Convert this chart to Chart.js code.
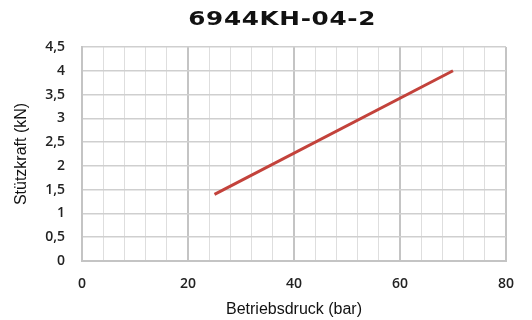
<!DOCTYPE html>
<html>
<head>
<meta charset="utf-8">
<script src="https://cdn.jsdelivr.net/npm/chart.js@4"></script>
<style>
  html, body { margin: 0; padding: 0; background: #fff; }
  #wrap { position: relative; width: 532px; height: 320px; }
  #title {
    position: absolute; left: 0; top: 7px; width: 434px; text-align: center;
    font-family: "DejaVu Sans", sans-serif; font-weight: bold; font-size: 19px;
    letter-spacing: 0.5px; color: #111;
    transform: scaleX(1.3); transform-origin: 0 0;
  }
</style>
</head>
<body>
<div id="wrap">
  <canvas id="chart" width="532" height="320"></canvas>
  <div id="title">6944KH-04-2</div>
</div>
<script>
// values
var pressure = [25, 70];      // Betriebsdruck (bar)
var force = [1.4, 4.0];       // Stützkraft (kN)
var xLabels = [0, 20, 40, 60, 80];

var points = pressure.map(function (p, i) { return { x: p, y: force[i] }; });

var tickFont = { family: 'Open Sans', size: 14, weight: '600' };

var ctx = document.getElementById('chart').getContext('2d');
var myChart = new Chart(ctx, {
    type: 'line',
    data: {
        datasets: [{
            data: points,
            borderColor: '#c3423b',
            borderWidth: 3,
            pointRadius: 0,
            fill: false
        }]
    },
    options: {
        responsive: false,
        animation: false,
        layout: { padding: { top: 47, right: 26, left: 0, bottom: 0 } },
        plugins: { legend: { display: false }, tooltip: { enabled: false } },
        scales: {
            x: {
                type: 'linear',
                min: 0, max: 80,
                afterFit: function (s) { s.height = 59; },
                ticks: {
                    stepSize: 4, autoSkip: false, maxRotation: 0, padding: 15,
                    color: '#222',
                    font: tickFont,
                    callback: function (v) { return xLabels.indexOf(v) >= 0 ? String(v) : ''; }
                },
                grid: {
                    drawTicks: false,
                    color: function (c) { return c.tick && c.tick.value % 20 === 0 ? '#c4c4c4' : '#dedede'; },
                    lineWidth: function (c) { return c.tick && c.tick.value % 20 === 0 ? 2 : 1; }
                },
                border: { color: '#c4c4c4', width: 2 },
                title: {
                    display: true, text: 'Betriebsdruck (bar)', color: '#111',
                    font: { family: 'Liberation Sans', size: 16 },
                    padding: { top: 0, bottom: 1 }
                }
            },
            y: {
                min: 0, max: 4.5,
                afterFit: function (s) { s.width = 82; },
                ticks: {
                    stepSize: 0.5, padding: 17, color: '#222',
                    font: tickFont,
                    callback: function (v) { return String(v).replace('.', ','); }
                },
                grid: { drawTicks: false, color: '#cfcfcf', lineWidth: 1.5 },
                border: { color: '#c4c4c4', width: 2 },
                title: {
                    display: true, text: 'Stützkraft (kN)', color: '#111',
                    font: { family: 'Liberation Sans', size: 16 },
                    padding: { top: 12, bottom: 0 }
                }
            }
        }
    }
});
</script>
</body>
</html>
